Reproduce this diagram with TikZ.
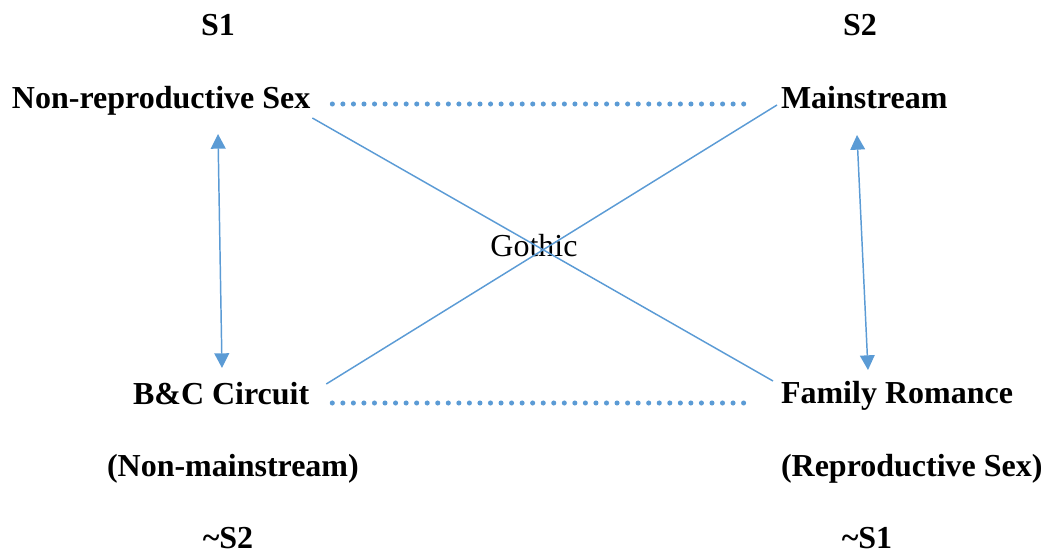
\documentclass[tikz,border=0pt]{standalone}
\usepackage{fontspec}
\setmainfont{Liberation Serif}
\definecolor{L}{HTML}{5B9BD5}
\usetikzlibrary{arrows.meta}
\usetikzlibrary{positioning}
\tikzstyle{term}=[inner sep=0pt, outer sep=0pt, font=\bfseries]
\tikzstyle{dotline}=[L, line width=3.8pt, line cap=round, dash pattern=on 0pt off 7.91pt]
\tikzstyle{link}=[L, line width=1.1pt]
\tikzstyle{pair}=[L, line width=1.1pt, {Triangle[width=11pt,length=11pt]}-{Triangle[width=11pt,length=11pt]}]

\begin{document}
\begin{tikzpicture}[x=0.75pt, y=-0.75pt]
    \fontsize{24}{28}\selectfont
        \useasboundingbox (0,0) rectangle (1048,555);
        % corners of the square
        \node [term, anchor=base] (s1) at (218,36) {S1};
        \node [term, anchor=base] (s2) at (860,36) {S2};
        \node [term, anchor=base west] (nrs) at (12,109) {Non-reproductive Sex};
        \node [term, anchor=base west] (main) at (781,109) {Mainstream};
        \node [term, anchor=base west] (bc) at (133,404) {B\&C Circuit};
        \node [term, anchor=base west] (fr) at (781,403) {Family Romance};
        \node [term, anchor=base west] (nm) at (107,476) {(Non-mainstream)};
        \node [term, anchor=base west] (rs) at (781,476) {(Reproductive Sex)};
        \node [term, anchor=base] (ns2) at (228,548) {\textasciitilde S2};
        \node [term, anchor=base] (ns1) at (867,548) {\textasciitilde S1};
        \node [inner sep=0pt, anchor=base] (goth) at (534,257) {Gothic};
        % contraries
        \draw [dotline] ([shift={(22,-5)}]nrs.base east) -- ([shift={(-29,-5)}]main.base west);
        \draw [dotline] ([shift={(23,-1)}]bc.base east) -- ([shift={(-29,0)}]fr.base west);
        % contradictions
        \draw [link] ([shift={(2,9)}]nrs.base east) -- ([shift={(-8,-22)}]fr.base west);
        \draw [link] ([shift={(17,-20)}]bc.base east) -- ([shift={(-4,-4)}]main.base west);
        % implications
        \draw [pair] ([shift={(206,25)}]nrs.base west) -- ([shift={(89,-36)}]bc.base west);
        \draw [pair] ([shift={(76,26)}]main.base west) -- ([shift={(87,-33)}]fr.base west);
    \end{tikzpicture}
\end{document}
